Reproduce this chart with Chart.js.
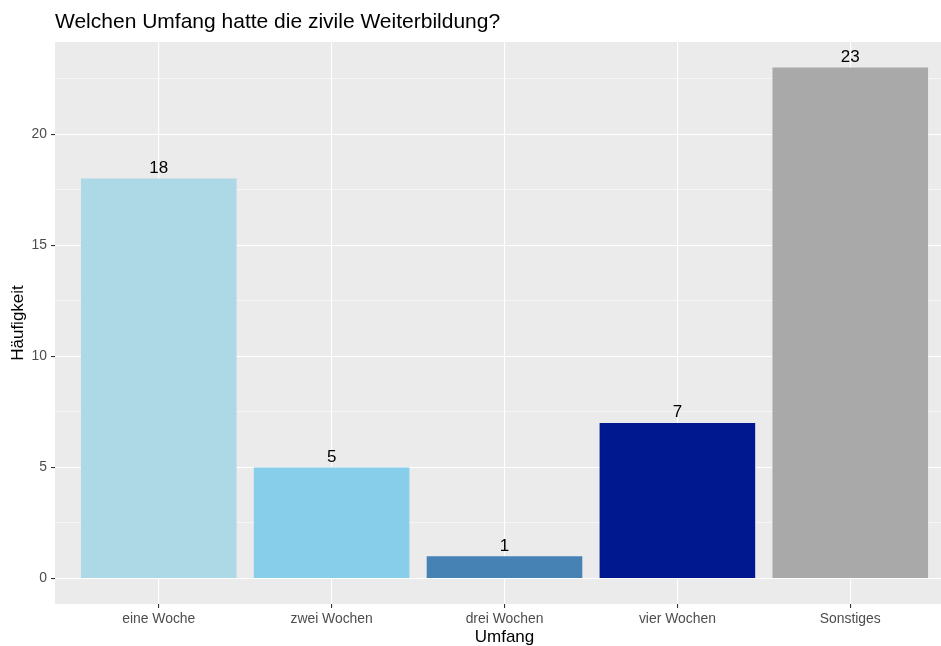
<!DOCTYPE html>
<html>
<head>
<meta charset="utf-8">
<script src="https://cdn.jsdelivr.net/npm/chart.js@4.4.1/dist/chart.umd.min.js"></script>
<style>
  html, body { margin: 0; padding: 0; background: #ffffff; overflow: hidden; }
  #wrap { width: 941px; height: 646px; overflow: hidden; position: relative; }
  canvas { display: block; }
</style>
</head>
<body>
<div id="wrap"><canvas id="c" width="960" height="646"></canvas></div>
<script>
// ---- data ----
const categories = ['eine Woche', 'zwei Wochen', 'drei Wochen', 'vier Wochen', 'Sonstiges'];
const counts = [18, 5, 1, 7, 23];
const barColors = ['#ADD8E6', '#87CEEB', '#4682B4', '#00188F', '#A9A9A9'];
const yMajorTicks = [0, 5, 10, 15, 20];
const yMinorTicks = [2.5, 7.5, 12.5, 17.5, 22.5];
const chartTitle = 'Welchen Umfang hatte die zivile Weiterbildung?';
const xTitle = 'Umfang';
const yTitle = 'Häufigkeit';

const FONT = '"Liberation Sans", Arial, Helvetica, sans-serif';

const panelBg = {
  id: 'panelBg',
  beforeDraw(chart) {
    const { ctx, chartArea: a } = chart;
    ctx.save();
    ctx.fillStyle = '#EBEBEB';
    ctx.fillRect(a.left, a.top, a.right - a.left, a.bottom - a.top);
    ctx.restore();
  }
};

const labelsAndTitle = {
  id: 'labelsAndTitle',
  afterDatasetsDraw(chart) {
    const { ctx } = chart;
    const meta = chart.getDatasetMeta(0);
    ctx.save();
    ctx.fillStyle = '#000000';
    ctx.font = '17px ' + FONT;
    ctx.textAlign = 'center';
    ctx.textBaseline = 'alphabetic';
    meta.data.forEach((bar, i) => {
      ctx.fillText(String(counts[i]), bar.x, bar.y - 5.5);
    });
    ctx.restore();
  },
  afterDraw(chart) {
    const { ctx } = chart;
    ctx.save();
    ctx.fillStyle = '#000000';
    ctx.font = '21px ' + FONT;
    ctx.textAlign = 'left';
    ctx.textBaseline = 'middle';
    ctx.fillText(chartTitle, 55, 22.5);
    ctx.restore();
  }
};

new Chart(document.getElementById('c'), {
  type: 'bar',
  data: {
    datasets: [{
      data: categories.map((c, i) => ({ x: i + 1, y: counts[i] })),
      backgroundColor: barColors,
      borderWidth: 0,
      barPercentage: 0.9,
      categoryPercentage: 1.0
    }]
  },
  options: {
    responsive: false,
    devicePixelRatio: 1,
    animation: false,
    layout: { padding: { top: 42, right: 6, left: 0, bottom: 0 } },
    plugins: {
      legend: { display: false },
      tooltip: { enabled: false },
      title: { display: false }
    },
    scales: {
      x: {
        type: 'linear',
        min: 0.4,
        max: 5.6,
        offset: false,
        afterBuildTicks(scale) {
          scale.ticks = categories.map((c, i) => ({ value: i + 1 }));
        },
        afterFit(scale) { scale.height = 42; },
        border: { display: false },
        grid: {
          offset: false,
          color: '#FFFFFF',
          lineWidth: 1.1,
          drawTicks: true,
          tickLength: 4,
          tickColor: '#333333',
          tickWidth: 1.1
        },
        ticks: {
          autoSkip: false,
          maxRotation: 0,
          padding: 2.5,
          color: '#4D4D4D',
          font: { family: FONT, size: 13.9 },
          callback: (v) => categories[Math.round(v) - 1]
        },
        title: {
          display: true,
          text: xTitle,
          color: '#000000',
          font: { family: FONT, size: 17 },
          padding: { top: 0, bottom: -2 }
        }
      },
      y: {
        type: 'linear',
        min: -1.15,
        max: 24.15,
        afterBuildTicks(scale) {
          scale.ticks = yMajorTicks.concat(yMinorTicks).sort((a, b) => a - b).map(v => ({ value: v }));
        },
        afterFit(scale) { scale.width = 55; },
        border: { display: false },
        grid: {
          color: '#FFFFFF',
          lineWidth: (ctx) => (yMajorTicks.includes(ctx.tick && ctx.tick.value) ? 1.1 : 0.55),
          drawTicks: true,
          tickLength: 4,
          tickColor: (ctx) => (yMajorTicks.includes(ctx.tick && ctx.tick.value) ? '#333333' : 'rgba(0,0,0,0)'),
          tickWidth: 1.1
        },
        ticks: {
          padding: 4,
          color: '#4D4D4D',
          font: { family: FONT, size: 13.9 },
          callback: (v) => (yMajorTicks.includes(v) ? String(v) : '')
        },
        title: {
          display: true,
          text: yTitle,
          color: '#000000',
          font: { family: FONT, size: 17 },
          padding: { top: 8, bottom: 0 }
        }
      }
    }
  },
  plugins: [panelBg, labelsAndTitle]
});
</script>
</body>
</html>
